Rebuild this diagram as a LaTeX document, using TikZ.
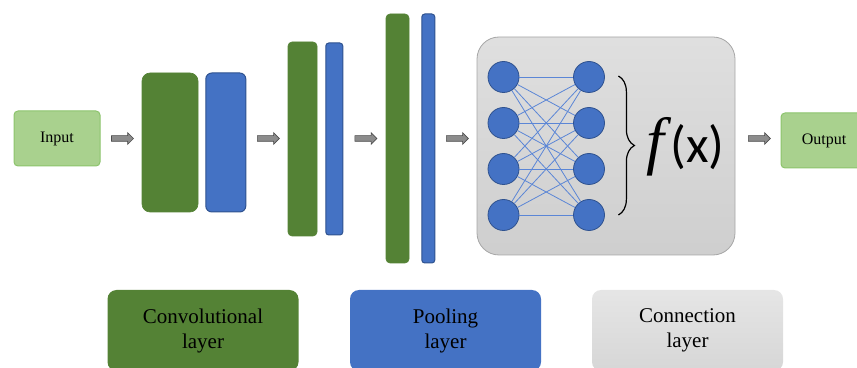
\documentclass[tikz,border=0pt]{standalone}
\usepackage{fontspec}
\setmainfont{Liberation Serif}
\newfontfamily\sansx{Carlito}
\usetikzlibrary{arrows.meta, positioning, shapes.arrows, decorations.pathreplacing, calc}
\definecolor{cnnGreen}{HTML}{548235}
\definecolor{cnnBlue}{HTML}{4472C4}
\definecolor{cnnBlueDark}{HTML}{2F528F}
\definecolor{cnnLink}{HTML}{5B86D6}
\definecolor{cnnLight}{HTML}{A9D18E}
\definecolor{cnnLightEdge}{HTML}{8CC46C}
\definecolor{cnnGrayEdge}{HTML}{A6A6A6}
\definecolor{cnnArrow}{HTML}{8C8C8C}

\begin{document}
\begin{tikzpicture}[
  x=1pt, y=1pt,
  convbox/.style={
    rectangle, rounded corners=#1, fill=cnnGreen, draw=cnnGreen,
    line width=0.6pt, inner sep=0pt,
  },
  convbox/.default=4pt,
  poolbox/.style={
    rectangle, rounded corners=#1, fill=cnnBlue, draw=cnnBlueDark,
    line width=1pt, inner sep=0pt,
  },
  poolbox/.default=3pt,
  iobox/.style={
    rectangle, rounded corners=4pt, fill=cnnLight, draw=cnnLightEdge,
    line width=1pt, minimum width=86pt, minimum height=55pt,
    font=\fontsize{16}{19}\selectfont,
  },
  fatarrow/.style={
    single arrow, draw=cnnArrow!55!black, fill=cnnArrow, line width=0.6pt,
    minimum height=22pt, minimum width=11pt, inner sep=2.5pt,
    single arrow head extend=3pt,
  },
  neuron/.style={
    circle, fill=cnnBlue, draw=cnnBlueDark, line width=0.8pt,
    minimum size=31pt, inner sep=0pt,
  },
  link/.style={draw=cnnLink, line width=0.8pt},
  fxbrace/.style={decorate, decoration={brace, amplitude=16pt}, line width=1.2pt},
  legend/.style={
    rectangle, rounded corners=9pt, minimum width=191pt, minimum height=81pt,
    font=\fontsize{21}{25}\selectfont, align=center,
  },
]
\useasboundingbox (0,0) rectangle (857,367);

% Input and feature blocks
\node[iobox] (input) at (57,228.5) {Input};
\node[convbox=8pt, minimum width=56pt, minimum height=139pt] (conv1) at (170,224.5) {};
\node[poolbox=6pt, minimum width=40pt, minimum height=139pt, right=7pt of conv1] (pool1) {};
\node[convbox, minimum width=29pt, minimum height=194pt] (conv2) at (302.5,228) {};
\node[poolbox, minimum width=17pt, minimum height=192pt, right=8pt of conv2] (pool2) {};
\node[convbox, minimum width=23pt, minimum height=249pt] (conv3) at (397.5,228.5) {};
\node[poolbox, minimum width=13pt, minimum height=249pt, right=12pt of conv3] (pool3) {};

% Fully connected part
\node[rectangle, rounded corners=22pt, draw=cnnGrayEdge, line width=0.8pt,
  top color=gray!25, bottom color=gray!38,
  minimum width=258pt, minimum height=218pt] (fc) at (606,221) {};
\foreach \i/\yy in {1/290,2/244,3/198,4/152} {
  \node[neuron] (l\i) at (503.5,\yy) {};
  \node[neuron] (r\i) at (589,\yy) {};
}
\foreach \i in {1,...,4}
  \foreach \j in {1,...,4}
    \draw[link] (l\i) -- (r\j);
\draw[fxbrace] ([xshift=13.5pt]r1.east |- 0,291) -- ([xshift=13.5pt]r4.east |- 0,152);
\node[anchor=base west, inner sep=0pt] (fx) at (646,204)
  {\fontsize{64}{70}\selectfont\textit{f}\kern-1pt{\sansx\fontsize{52}{58}\selectfont(x)}};

\node[iobox] (output) at (824,226.5) {Output};

% Arrows between stages
\path (input.east) -- node[fatarrow] {} (input.east -| conv1.west);
\path (pool1.east |- input) -- node[fatarrow] {} (conv2.west |- input);
\path (pool2.east |- input) -- node[fatarrow] {} (conv3.west |- input);
\path (pool3.east |- input) -- node[fatarrow] {} (fc.west |- input);
\path (fc.east |- input) -- node[fatarrow] {} (output.west |- input);

% Legend
\node[legend, fill=cnnGreen] (legconv) at (203,36.5) {Convolutional\\layer};
\node[legend, fill=cnnBlue] (legpool) at (445.5,36.5) {Pooling\\layer};
\node[legend, top color=gray!20, bottom color=gray!32] (legfc) at (687.5,36.5) {Connection\\layer};

\end{tikzpicture}
\end{document}
